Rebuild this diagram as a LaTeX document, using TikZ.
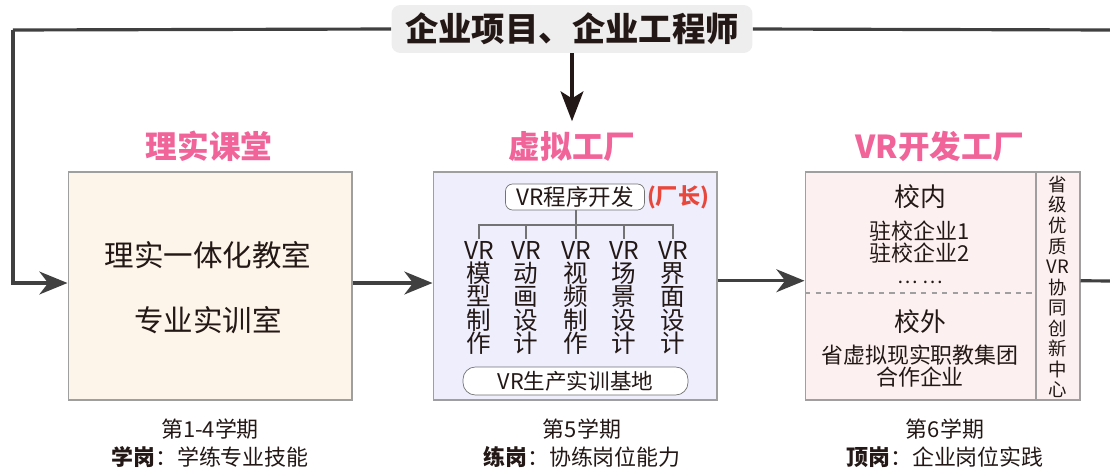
\documentclass[tikz,border=0pt]{standalone}
\usepackage{fontspec}
\setmainfont{Noto Sans CJK SC}
\usetikzlibrary{arrows.meta}
\definecolor{linegray}{HTML}{404040}
\definecolor{inkdark}{HTML}{231815}
\definecolor{titlepink}{HTML}{F0649A}
\definecolor{chiefred}{HTML}{E8473C}
\definecolor{fillbeige}{HTML}{FEF5EA}
\definecolor{filllav}{HTML}{EEEEFD}
\definecolor{fillrose}{HTML}{FDF0F0}
\definecolor{topgray}{HTML}{EEEEEE}

\begin{document}
\begin{tikzpicture}[x=0.02cm, y=-0.02cm, inkdark,
    stagebox/.style={draw=gray!75, line width=0.6pt, inner sep=0pt},
    stagetitle/.style={text=titlepink, font=\fontsize{18}{20}\selectfont\bfseries},
    flow/.style={linegray, line width=1.8pt, -{Stealth[length=16pt, width=13pt, inset=5pt]}},
    col/.style={anchor=north, align=center, inner sep=1pt, font=\fontsize{14}{13.3}\selectfont},
    caption/.style={align=center, font=\fontsize{12.5}{16}\selectfont}]
  \useasboundingbox (0,0) rectangle (1110,470);

  % top source
  \node[fill=topgray, rounded corners=5pt, minimum width=7.22cm, minimum height=0.96cm,
        font=\fontsize{19}{22}\selectfont\bfseries] (top) at (572,29) {企业项目、企业工程师};
  \coordinate (topL) at (13,30);
  \coordinate (topR) at (1110,30);

  % titles
  \node[stagetitle] (t1) at (209,146) {理实课堂};
  \node[stagetitle] (t2) at (572,146) {虚拟工厂};
  \node[stagetitle] (t3) at (940,146) {VR开发工厂};

  % stage boxes
  \node[stagebox, fill=fillbeige, minimum width=5.68cm, minimum height=4.56cm] (b1) at (210,286) {};
  \node[stagebox, fill=filllav, minimum width=5.68cm, minimum height=4.56cm] (b2) at (575,286) {};
  \node[stagebox, fill=fillrose, minimum width=5.5cm, minimum height=4.56cm] (b3) at (942.5,286) {};

  % box 1
  \node[font=\fontsize{16.8}{20}\selectfont] (r1) at (208,255) {理实一体化教室};
  \node[font=\fontsize{16.8}{20}\selectfont] (r2) at (208,320) {专业实训室};

  % box 2
  \node[draw=gray!90!black, fill=white, rounded corners=4pt, minimum width=2.78cm, minimum height=0.52cm,
        inner sep=1pt, font=\fontsize{12.8}{14}\selectfont] (dev) at (575,197) {VR程序开发};
  \node[text=chiefred, font=\fontsize{12.6}{14}\selectfont\bfseries] (chief) at (678,197) {(厂长)};
  \coordinate (bus) at (576,225);
  \node[col] (c1) at (479,239) {VR\\模\\型\\制\\作};
  \node[col] (c2) at (526,239) {VR\\动\\画\\设\\计};
  \node[col] (c3) at (576,239) {VR\\视\\频\\制\\作};
  \node[col] (c4) at (624,239) {VR\\场\\景\\设\\计};
  \node[col] (c5) at (673,239) {VR\\界\\面\\设\\计};
  \draw[gray!90!black, line width=0.6pt] (dev.south -| bus) -- (bus);
  \foreach \c in {c1,c2,c3,c4,c5}
    \draw[gray!90!black, line width=0.6pt] (bus) -| (\c.north);
  \node[draw=gray!90!black, fill=white, rounded corners=7pt, minimum width=4.5cm, minimum height=0.56cm,
        inner sep=1pt, font=\fontsize{12.3}{14}\selectfont] (base) at (575.5,381) {VR生产实训基地};

  % box 3
  \coordinate (div) at (1036,172);
  \coordinate (dashL) at (805,293);
  \draw[gray!75, line width=0.6pt] (div) -- (div |- b3.south);
  \draw[gray!75, line width=0.6pt, dashed] (dashL) -- (dashL -| div);
  \node[font=\fontsize{14.7}{17}\selectfont] (in) at (920,197) {校内};
  \node[align=center, font=\fontsize{12.5}{12.5}\selectfont] (inlist) at (920,242) {驻校企业1\\驻校企业2};
  \node[font=\fontsize{11}{12}\selectfont] (dots) at (920,282) {… …};
  \node[font=\fontsize{14.7}{17}\selectfont] (out) at (920,322) {校外};
  \node[align=center, font=\fontsize{12.5}{13}\selectfont] (outlist) at (920,366) {省虚拟现实职教集团\\合作企业};
  \node[align=center, inner sep=0pt, font=\fontsize{10.5}{11.7}\selectfont] (center) at (1058,287)
    {省\\级\\优\\质\\VR\\协\\同\\创\\新\\中\\心};

  % captions
  \node[caption] (s1) at (210,443) {第1-4学期\\\textbf{学岗}：学练专业技能};
  \node[caption] (s2) at (582,443) {第5学期\\\textbf{练岗}：协练岗位能力};
  \node[caption] (s3) at (945,443) {第6学期\\\textbf{顶岗}：企业岗位实践};

  % connectors
  \coordinate (exitR) at (1110,281);
  \draw[linegray, line width=1.8pt] (top.west) -- (topL);
  \draw[linegray, line width=1.8pt] (top.east) -- (topR);
  \draw[flow] (topL) |- ([yshift=1.7pt]b1.west);
  \draw[flow, inkdark, -{Stealth[length=17pt, width=13pt, inset=4pt]}] (top.south) -- ([yshift=2pt]t2.north);
  \draw[flow] ([yshift=1.7pt]b1.east) -- ([yshift=1.7pt]b2.west);
  \draw[flow] ([yshift=3pt]b2.east) -- ([yshift=3pt]b3.west);
  \draw[linegray, line width=1.8pt] ([yshift=3pt]b3.east) -- (exitR);
\end{tikzpicture}
\end{document}
